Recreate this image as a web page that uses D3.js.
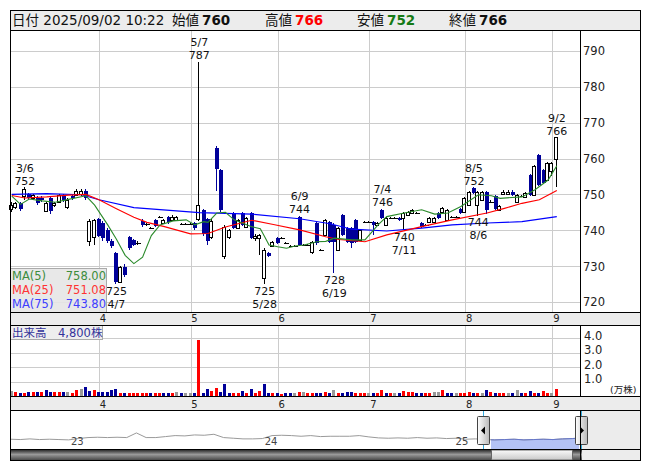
<!DOCTYPE html>
<html><head><meta charset="utf-8">
<script src="https://cdn.jsdelivr.net/npm/d3@7"></script>
<style>
body{margin:0;background:#fff}
svg{display:block}
text{font-family:"DejaVu Sans","Noto Sans CJK JP",sans-serif}
</style>
</head><body>
<svg id="c" width="653" height="470"></svg>
<script>
// ---------------- DATA ----------------
const dates = ["3/3","3/4","3/5","3/6","3/7","3/10","3/11","3/12","3/13","3/14","3/17","3/18","3/19","3/21","3/24","3/25","3/26","3/27","3/28","3/31",
"4/1","4/2","4/3","4/4","4/7","4/8","4/9","4/10","4/11","4/14","4/15","4/16","4/17","4/18","4/21","4/22","4/23","4/24","4/25","4/28","4/30",
"5/1","5/2","5/7","5/8","5/9","5/12","5/13","5/14","5/15","5/16","5/19","5/20","5/21","5/22","5/23","5/26","5/27","5/28","5/29","5/30",
"6/2","6/3","6/4","6/5","6/6","6/9","6/10","6/11","6/12","6/13","6/16","6/17","6/18","6/19","6/20","6/23","6/24","6/25","6/26","6/27","6/30",
"7/1","7/2","7/3","7/4","7/7","7/8","7/9","7/10","7/11","7/14","7/15","7/16","7/17","7/18","7/22","7/23","7/24","7/25","7/28","7/29","7/30","7/31",
"8/1","8/4","8/5","8/6","8/7","8/8","8/12","8/13","8/14","8/15","8/18","8/19","8/20","8/21","8/22","8/25","8/26","8/27","8/28","8/29",
"9/1","9/2"];
const opens = [746,746.5,747.5,749.5,750,749,749,749,745.5,749,747,748,749.5,746.5,749.5,749.8,750,751,737,738,
743,742,740,737,733.7,725.5,729.8,738,737.2,736.5,742.7,741.7,740.7,742.9,743.8,742,743.8,742.9,742.9,741.7,741.7,
741.7,742,743,745.7,743,738,763,756.8,732.7,738,744.8,740.7,744.8,741,744.8,737.9,737.9,726.7,733.7,735.6,
737.9,737.8,736.5,735.6,735.6,743.8,735.9,736,733.8,742,734.5,738.7,742.4,741.5,734.5,744.3,740.7,740.6,742.9,737.3,742.4,
742.4,742.4,741.5,745.7,741.5,743.5,743.5,743.5,743.4,744.3,744.9,744.8,742,741.5,742.4,742.4,744.9,745.2,742.9,743.6,743.6,746,
745,747,751.8,747,748.5,750.8,748,749.5,745.7,750.1,750.1,750.8,748,749.6,749.4,755.4,749.9,761,756.8,754,
756.4,760];
const highs = [748,748,748,752,750.5,750,749.5,749.5,748,749.5,748,750,750,749,750,751.5,751.5,751.5,743,743,
743.5,742.5,740.5,737.5,734,730,730.5,738.5,737.5,737,743,742,741,743.2,744,743,744,744.2,744,742,742,
742,742.3,787,746,743.5,743,763.5,757,741.5,740.3,745,743.2,745,743.8,745,739,739,735,734,737,
738.2,738,736.8,735.9,735.9,744,736.2,736.3,737,742.3,734.8,743.2,742.7,742,741,744.5,741,741,743.2,740.4,742.7,
742.7,742.7,742.3,746,743.7,743.8,743.8,743.8,745,745.5,746,745.1,742.3,741.8,743.8,743.8,745.2,746.5,746,743.9,743.9,746.3,
749.3,751,752,751,751,751,748.3,749.8,747.1,751.1,751.1,751.1,750.2,749.9,750.6,755.7,758.1,761.3,757.1,759,
759,766];
const lows = [745,746,745.5,748.5,748.5,748.5,747,748,745,744.5,746.5,747.5,748,746,748.5,749.5,749.5,748.5,735.5,736,
738,737,736.5,735,725,725.3,727,734.5,735.5,736,741,741.3,740.3,740.8,743.5,741.8,741.8,742.6,742.5,741.4,741.4,
741.4,740,742.5,738.5,736,737.5,751,745,732,737.5,740.3,740.3,741.2,740.8,737.5,737,733,725,732.5,735.3,
736.2,737.5,736.2,735.3,735.3,735.5,735.6,735.7,733.5,736,734.2,738.4,736.5,728,734.2,738.4,736.5,735,736.5,737,742.1,
742.1,738.7,741.2,743,741.2,743.2,743.2,742.6,740,744,744.6,744.5,740.7,741.2,742.1,742.1,743.2,744.9,742.6,743.3,743.3,744.5,
744.7,746.7,750,744,748.2,744.5,747.7,745.7,745.4,749.8,749.8,749.6,747.7,749.3,749.1,749.6,749.6,752.3,752.8,753.7,
755,752];
const closes = [747,747.5,746,751.5,749,749.8,747.5,748.3,747.5,745.5,747.5,749.8,748.5,748.5,749,751,751,749,742.5,742.8,
738.5,737.7,737,735.5,725.5,729.8,727.5,735,735.8,736.5,741.5,741.7,740.7,741.3,743.8,742.9,742.2,743.8,743.8,741.7,741.7,
741.7,740.7,747,739,737,742.6,757,745.7,741,740,740.7,742.9,741.5,743.5,737.9,738.5,738.7,734.5,732.8,736.8,
736.5,737.8,736.5,735.6,735.6,735.9,735.9,736,736.8,736.5,734.5,742.9,736.8,736.8,740.7,738.7,736.8,736.5,736.8,740.1,742.4,
742.4,741.5,742,743.5,743.4,743.5,743.5,742.9,744.8,745.2,745.7,744.8,741,741.5,743.5,743.5,743.5,746.2,745.7,743.6,743.6,744.8,
749,750.8,750.4,750.8,750.8,745.7,748,746,746.8,750.8,750.8,749.9,749.9,749.6,750.3,749.9,757.8,752.6,753.1,758.7,
758.7,766];
const volumes = [3400,2800,2300,2300,3000,2800,2800,3000,4100,2800,3000,3000,3000,3000,2300,4100,4600,6200,3400,4100,
2800,3000,3000,4100,4800,2300,2300,2300,2300,2300,2300,2300,2300,2300,2300,2300,2300,2300,2800,2300,2300,
2300,2300,38600,2300,4600,3700,5300,3000,8300,2300,2300,2300,3400,2300,4600,2000,3400,8300,2300,2300,
2300,1500,2300,2300,2300,2800,2800,2300,2300,2300,2300,3000,2300,4100,2300,2300,3000,3000,2300,2300,2300,
2300,2300,2300,4100,2300,2300,2300,2300,3700,2800,3000,2300,2300,2300,2300,2800,3000,4100,2300,2300,2300,2300,
2300,2800,2300,2300,2300,4100,3000,2300,2300,2300,2300,2300,4100,2300,2300,3700,2300,2300,3700,2300,
2300,4800];
// moving averages: [trading-day index, value]
const ma5Points = [[0,749.5],[2,747.2],[4,748.7],[7,748.2],[10,747.8],[13,748.6],[17,749.6],[19,747.0],[22,741.5],[24,737.5],[26,733.0],[28,730.7],[30,732.5],[32,738.5],[34,741.5],[37,742.6],[40,742.9],[42,741.5],[44,742.4],[45,742.2],[47,744.8],[49,745.0],[51,742.9],[55,741.0],[57,740.4],[58,738.2],[59,735.9],[61,735.4],[63,735.0],[65,735.6],[67,735.9],[70,736.8],[72,736.9],[74,737.8],[78,737.3],[81,737.3],[84,741.5],[86,743.8],[90,744.8],[94,745.7],[97,744.5],[100,744.8],[103,746.6],[107,749.9],[110,749.6],[112,748.9],[117,749.3],[120,751.3],[123,754.0],[125,758.0]];
const ma25Points = [[0,749.7],[3,749.0],[8,749.3],[13,749.8],[17,750.0],[20,748.5],[24,746.0],[28,743.6],[31,742.2],[35,741.0],[41,739.0],[45,739.1],[49,740.9],[55,742.8],[60,741.6],[66,740.1],[72,738.2],[75,737.4],[81,736.8],[86,738.7],[94,741.0],[101,742.9],[109,744.8],[113,746.1],[117,747.5],[121,748.5],[125,751.1]];
const ma75Points = [[0,750.0],[8,750.2],[16,749.9],[20,748.5],[28,746.3],[43,744.9],[55,744.5],[66,743.2],[73,741.8],[78,740.3],[86,739.8],[94,740.6],[101,741.5],[109,742.0],[117,742.4],[125,743.8]];
const maLegend = [["MA(5)","758.00"],["MA(25)","751.08"],["MA(75)","743.80"]];
const priceTicks = [720,730,740,750,760,770,780,790];
const volumeTicks = [1,2,3,4];            // 万株
const volumeTickLabels = ["1.0","2.0","3.0","4.0"];
const monthStarts = ["4/1","5/1","6/2","7/1","8/1","9/1"];
const monthLabels = ["4","5","6","7","8","9"];
const notes = [["3/6",752,"high"],["5/7",787,"high"],["6/9",744,"high"],["7/4",746,"high"],["8/5",752,"high"],["9/2",766,"high"],
               ["4/7",725,"low"],["5/28",725,"low"],["6/19",728,"low"],["7/11",740,"low"],["8/6",744,"low"]];
const header = {date:"2025/09/02 10:22", open:"760", high:"766", low:"752", close:"766"};
const volumeNow = "4,800株";
// navigator: long-term closes (2023 - 2025)
const navClose = [752,750,754,750,752,750,748,756,762,764,762,764,762,790,762,762,768,774,772,778,776,782,762,758,754,754,756,774,776,774,770,774,768,770,770,770,774,766,760,758,760,758,762,758,760,756,758,752,754,750,748,750,752,748,750,752,750,754,756,760];
const navYears = [["23",6.9],["24",26.9],["25",46.6]];   // label, position in navigator index
const navWindow = [49.6, 58.7];

// ---------------- LAYOUT ----------------
const svg = d3.select("#c");
const defs = svg.append("defs");
const X0=10.5, X1=640.5, XP=580.5;
const Y_TOP=10.5, Y_HEAD=30.5, Y_PB=312.5, Y_S1=325.5, Y_VB=396.5, Y_S2=410.5, Y_NB=449.5, Y_BOT=460.5;

const x = d3.scalePoint().domain(dates).range([11.8, 556.8]);
const yP = d3.scaleLinear().domain([717.2, 795.7]).range([312, 30.5]);
const yV = d3.scaleLinear().domain([0, 4]).range([396, 338]);
const px = d => Math.round(x(d));

// backgrounds
svg.append("rect").attr("x",0).attr("y",0).attr("width",653).attr("height",470).attr("fill","#fff");
svg.append("rect").attr("x",X0).attr("y",Y_TOP).attr("width",X1-X0).attr("height",Y_HEAD-Y_TOP).attr("fill","#ececec");
[[Y_PB,Y_S1],[Y_VB,Y_S2]].forEach(([a,b])=>svg.append("rect").attr("x",X0).attr("y",a).attr("width",X1-X0).attr("height",b-a).attr("fill","#ececec"));
svg.append("rect").attr("x",XP).attr("y",Y_S2).attr("width",X1-XP).attr("height",Y_BOT-Y_S2).attr("fill","#ececec");

// grid
const grid = svg.append("g").attr("stroke","#cccccc").attr("stroke-width",1).attr("shape-rendering","crispEdges");
priceTicks.forEach(t=>grid.append("line").attr("x1",X0).attr("x2",XP).attr("y1",Math.round(yP(t))+0.5).attr("y2",Math.round(yP(t))+0.5));
volumeTicks.forEach(t=>grid.append("line").attr("x1",X0).attr("x2",XP).attr("y1",Math.round(yV(t))+0.5).attr("y2",Math.round(yV(t))+0.5));
monthStarts.forEach(d=>{
  grid.append("line").attr("x1",px(d)+0.5).attr("x2",px(d)+0.5).attr("y1",Y_HEAD).attr("y2",Y_PB);
  grid.append("line").attr("x1",px(d)+0.5).attr("x2",px(d)+0.5).attr("y1",Y_S1).attr("y2",Y_VB);
});

// candles
const cg = svg.append("g").attr("shape-rendering","crispEdges");
dates.forEach((d,i)=>{
  const n = px(d), o=opens[i], c=closes[i];
  const col = c<o ? "#000099" : "#000";
  cg.append("line").attr("x1",n-0.5).attr("x2",n-0.5).attr("y1",yP(highs[i])).attr("y2",yP(lows[i])).attr("stroke",col);
  if (c>o) {
    const y1=Math.round(yP(c))+0.5, y2=Math.round(yP(o))+0.5;
    cg.append("rect").attr("x",n-2.5).attr("y",y1).attr("width",3).attr("height",Math.max(1,y2-y1)).attr("fill","#fff").attr("stroke","#000");
  } else if (c<o) {
    const y1=Math.round(yP(o)), y2=Math.round(yP(c));
    cg.append("rect").attr("x",n-2).attr("y",y1).attr("width",4).attr("height",Math.max(1,y2-y1)).attr("fill","#000099");
  } else {
    const yy=Math.round(yP(o))+0.5;
    cg.append("line").attr("x1",n-2.5).attr("x2",n+2.5).attr("y1",yy).attr("y2",yy).attr("stroke","#000");
  }
});

// moving averages
const maLine = d3.line().x(p=>x(dates[p[0]])).y(p=>yP(p[1]));
[[ma75Points,"#0000ff"],[ma25Points,"#ff0000"],[ma5Points,"#2a8a2a"]].forEach(([pts,col])=>
  svg.append("path").attr("d",maLine(pts)).attr("fill","none").attr("stroke",col).attr("stroke-width",1.1));

// high/low notes
const ng = svg.append("g").attr("font-size",11).attr("fill","#111").attr("text-anchor","middle");
notes.forEach(([d,v,k])=>{
  const cx = x(d);
  if (k==="high") {
    const b = yP(v)-2.5;
    ng.append("text").attr("x",cx).attr("y",b).text(v);
    ng.append("text").attr("x",cx).attr("y",b-13).text(d);
  } else {
    const b = yP(v)+10.5;
    ng.append("text").attr("x",cx).attr("y",b).text(v);
    ng.append("text").attr("x",cx).attr("y",b+13).text(d);
  }
});

// MA legend
const lg = svg.append("g");
lg.append("rect").attr("x",X0).attr("y",268.5).attr("width",96).attr("height",Y_PB-268.5).attr("fill","#e6e6e6").attr("fill-opacity",0.9).attr("stroke","#aaaaaa");
const legCols = ["#3c8c3c","#ff3333","#3d3dff"];
maLegend.forEach(([n,v],i)=>{
  const yb = 280 + i*13.8;
  lg.append("text").attr("x",12).attr("y",yb).attr("font-size",11.5).attr("fill",legCols[i]).text(n);
  lg.append("text").attr("x",106).attr("y",yb).attr("font-size",11.5).attr("fill",legCols[i]).attr("text-anchor","end").text(v);
});

// volume bars
const vg = svg.append("g").attr("shape-rendering","crispEdges");
dates.forEach((d,i)=>{
  const prev = i>0 ? closes[i-1] : closes[i];
  const col = closes[i]>prev ? "#ff0000" : (closes[i]<prev ? "#000099" : "#999999");
  const n = px(d), top = Math.round(yV(volumes[i]/10000));
  vg.append("rect").attr("x",n-2).attr("y",top).attr("width",3).attr("height",396-top).attr("fill",col);
});
// volume label
svg.append("rect").attr("x",X0).attr("y",Y_S1).attr("width",92).attr("height",14).attr("fill","#eeeeee").attr("stroke","#aaaaaa");
svg.append("text").attr("x",12).attr("y",Y_S1+11).attr("font-size",11.5).attr("fill","#33339a").text("出来高　"+volumeNow);

// axes text
const ag = svg.append("g").attr("fill","#222");
priceTicks.forEach(t=>ag.append("text").attr("x",583).attr("y",yP(t)+4.5).attr("font-size",11.5).text(t));
volumeTicks.forEach((t,i)=>ag.append("text").attr("x",584).attr("y",yV(t)+1.5).attr("font-size",11.5).text(volumeTickLabels[i]));
ag.append("text").attr("x",610).attr("y",393).attr("font-size",9.5).text("(万株)");
monthStarts.forEach((d,i)=>{
  ag.append("text").attr("x",x(d)+4).attr("y",322).attr("font-size",10).attr("text-anchor","middle").text(monthLabels[i]);
  ag.append("text").attr("x",x(d)+4).attr("y",407.5).attr("font-size",10).attr("text-anchor","middle").text(monthLabels[i]);
});

// navigator
const xN = d3.scaleLinear().domain([0, navClose.length-1]).range([X0, 582]);
const yN = d3.scaleLinear().domain([700, 800]).range([447.8, 431.3]);
defs.append("clipPath").attr("id","sel").append("rect").attr("x",xN(navWindow[0])).attr("y",Y_S2).attr("width",xN(navWindow[1])-xN(navWindow[0])).attr("height",Y_NB-Y_S2);
const navLine = d3.line().x((v,i)=>xN(i)).y(v=>yN(v));
const navArea = d3.area().x((v,i)=>xN(i)).y0(Y_NB).y1(v=>yN(v));
svg.append("path").attr("d",navArea(navClose)).attr("fill","#b3c2f5").attr("clip-path","url(#sel)");
svg.append("path").attr("d",navLine(navClose)).attr("fill","none").attr("stroke","#9a9a9a").attr("stroke-width",1);
svg.append("path").attr("d",navLine(navClose)).attr("fill","none").attr("stroke","#6677cc").attr("stroke-width",1).attr("clip-path","url(#sel)");
navYears.forEach(([t,p])=>svg.append("text").attr("x",xN(p)).attr("y",444.5).attr("font-size",10).attr("fill","#444").attr("text-anchor","middle").text(t));
[483.5, 581.5].forEach(xx=>svg.append("line").attr("x1",xx).attr("x2",xx).attr("y1",Y_S2).attr("y2",Y_NB).attr("stroke","#33aadd"));

// gradients
const gh = defs.append("linearGradient").attr("id","gh").attr("x1",0).attr("x2",1).attr("y1",0).attr("y2",0);
gh.append("stop").attr("offset","0%").attr("stop-color","#ffffff");
gh.append("stop").attr("offset","100%").attr("stop-color","#b8b8b8");
const gt = defs.append("linearGradient").attr("id","gt").attr("x1",0).attr("x2",0).attr("y1",0).attr("y2",1);
gt.append("stop").attr("offset","0%").attr("stop-color","#222");
gt.append("stop").attr("offset","45%").attr("stop-color","#9a9a9a");
gt.append("stop").attr("offset","100%").attr("stop-color","#444");
const gb = defs.append("linearGradient").attr("id","gb").attr("x1",0).attr("x2",0).attr("y1",0).attr("y2",1);
gb.append("stop").attr("offset","0%").attr("stop-color","#fafafa");
gb.append("stop").attr("offset","100%").attr("stop-color","#c8c8c8");

// scrollbar
svg.append("rect").attr("x",X0).attr("y",Y_NB).attr("width",582-X0).attr("height",Y_BOT-Y_NB).attr("fill","url(#gt)");
svg.append("rect").attr("x",491.5).attr("y",Y_NB+0.5).attr("width",81).attr("height",Y_BOT-Y_NB-1).attr("fill","url(#gb)").attr("stroke","#666");

// handles
[[477.5,"l"],[575.5,"r"]].forEach(([hx,dir])=>{
  svg.append("rect").attr("x",hx).attr("y",416.5).attr("width",12).attr("height",28).attr("fill","url(#gh)").attr("stroke","#444").attr("rx",1);
  const cx = hx+6, cy = 430.5;
  const pts = dir==="l" ? [[cx+1.5,cy-4],[cx+1.5,cy+4],[cx-2.5,cy]] : [[cx-1.5,cy-4],[cx-1.5,cy+4],[cx+2.5,cy]];
  svg.append("polygon").attr("points",pts.map(p=>p.join(",")).join(" ")).attr("fill","#000");
});

// frame lines
const fl = svg.append("g").attr("stroke","#000").attr("stroke-width",1).attr("shape-rendering","crispEdges");
[Y_HEAD,Y_PB,Y_S1,Y_VB,Y_S2,Y_NB].forEach(yy=>fl.append("line").attr("x1",X0).attr("x2",X1).attr("y1",yy).attr("y2",yy));
[[Y_HEAD,Y_PB],[Y_S1,Y_VB],[Y_S2,Y_BOT]].forEach(([a,b])=>fl.append("line").attr("x1",XP).attr("x2",XP).attr("y1",a).attr("y2",b));
fl.append("rect").attr("x",X0).attr("y",Y_TOP).attr("width",X1-X0).attr("height",Y_BOT-Y_TOP).attr("fill","none");

// header text
const hg = svg.append("g").attr("font-size",13.5);
const hb = 25;
hg.append("text").attr("x",12).attr("y",hb).attr("fill","#111").text("日付 "+header.date);
[["始値",172,header.open,"#111"],["高値",265,header.high,"#ff0000"],["安値",357,header.low,"#157a15"],["終値",449,header.close,"#111"]].forEach(([lab,xx,val,col])=>{
  hg.append("text").attr("x",xx).attr("y",hb).attr("fill","#111").text(lab);
  hg.append("text").attr("x",xx+30).attr("y",hb).attr("fill",col).attr("font-weight","bold").attr("font-size",13.5).text(val);
});
</script>
</body></html>
